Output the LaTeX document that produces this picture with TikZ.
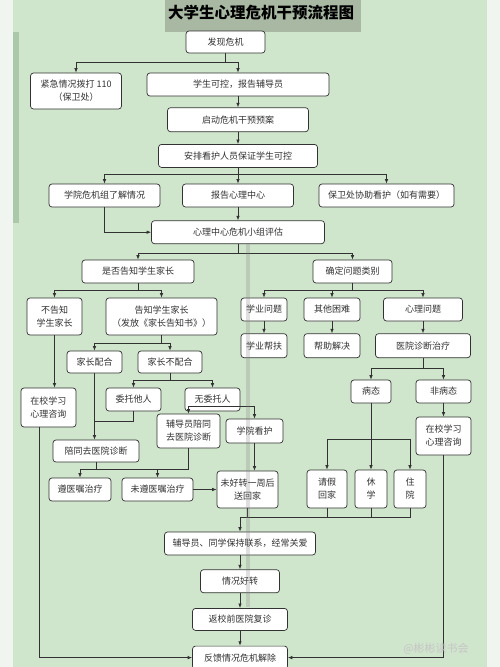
\documentclass[tikz,border=0pt]{standalone}
\usepackage{fontspec}
\usetikzlibrary{arrows.meta, positioning}
\newfontfamily\cjk{Noto Sans CJK SC}
\definecolor{paper}{RGB}{240,245,239}
\definecolor{sheet}{RGB}{207,229,204}
\definecolor{band}{RGB}{168,184,163}
\definecolor{stripe}{RGB}{172,200,170}
\definecolor{ink}{RGB}{50,50,50}

\begin{document}
\begin{tikzpicture}[x=1pt, y=-1pt,
        block/.style={rectangle, rounded corners=3pt, draw=ink, fill=white,
                      line width=0.7pt, minimum height=23pt, inner sep=2pt,
                      align=center, text=ink, font=\cjk\fontsize{9}{13}\selectfont},
        arrow/.style={-{Latex[length=4.5pt, width=3.5pt]}, line width=0.7pt, draw=ink},
        line/.style={line width=0.7pt, draw=ink},
    ]
        \useasboundingbox (0,0) rectangle (500,667);
        \fill[paper] (0,0) rectangle (500,667);
        \fill[sheet] (13,0) rectangle (487,667);
        \fill[stripe] (13,32) rectangle (19,223);
        \fill[band] (165,0) rectangle (361,32);
        \node[font=\cjk\bfseries\fontsize{15.5}{16}\selectfont, text=black] (title) at (261,13) {大学生心理危机干预流程图};

        % trunk
        \node[block, minimum width=79pt, minimum height=22pt] (find) at (225.5,42) {发现危机};
        \node[block, minimum width=91pt, minimum height=36pt] (call) at (76,91) {紧急情况拨打 110\\（保卫处）};
        \node[block, minimum width=182pt] (ctrl) at (238,84.5) {学生可控，报告辅导员};
        \node[block, minimum width=141pt, minimum height=24pt, below=11pt of ctrl] (plan) {启动危机干预预案};
        \node[block, minimum width=159pt, below=12pt of plan] (guard) {安排看护人员保证学生可控};
        \node[block, minimum width=111pt] (report) at (238,195.5) {报告心理中心};
        \node[block, minimum width=111pt] (college) at (104.5,195.5) {学院危机组了解情况};
        \node[block, minimum width=135pt] (security) at (386.5,195.5) {保卫处协助看护（如有需要）};
        \node[block, minimum width=173pt, below=13pt of report] (assess) {心理中心危机小组评估};

        % parents
        \node[block, minimum width=112pt] (notify) at (138,271.5) {是否告知学生家长};
        \node[block, minimum width=55pt, minimum height=37pt] (nonotify) at (54.5,316.5) {不告知\\学生家长};
        \node[block, minimum width=111pt, minimum height=37pt] (inform) at (161.5,316.5) {告知学生家长\\（发放《家长告知书》）};
        \node[block, minimum width=55pt, minimum height=22pt] (coop) at (94.5,362) {家长配合};
        \node[block, minimum width=64pt, minimum height=22pt] (noncoop) at (170,362) {家长不配合};
        \node[block, minimum width=55pt, minimum height=39pt] (studyL) at (48.5,407.5) {在校学习\\心理咨询};
        \node[block, minimum width=55pt] (entrust) at (133.5,399.5) {委托他人};
        \node[block, minimum width=55pt] (noagent) at (212.5,399.5) {无委托人};
        \node[block, minimum width=63pt, minimum height=34pt] (tutor) at (188.5,431) {辅导员陪同\\去医院诊断};
        \node[block, minimum width=57pt, minimum height=24pt] (campus) at (254.5,431) {学院看护};
        \node[block, minimum width=86pt, minimum height=22pt] (escort) at (96,451) {陪同去医院诊断};
        \node[block, minimum width=62pt] (follow) at (80,489.5) {遵医嘱治疗};
        \node[block, minimum width=71pt] (nofollow) at (157.5,489.5) {未遵医嘱治疗};
        \node[block, minimum width=61pt, minimum height=37pt] (notbetter) at (247.5,489.5) {未好转一周后\\送回家};

        % problem types
        \node[block, minimum width=79pt] (classify) at (352.5,271.5) {确定问题类别};
        \node[block, minimum width=46pt] (study) at (264,309.5) {学业问题};
        \node[block, minimum width=56pt] (other) at (332,309.5) {其他困难};
        \node[block, minimum width=79pt] (psych) at (423,309.5) {心理问题};
        \node[block, minimum width=46pt, minimum height=24pt, below=12pt of study] (tutoring) {学业帮扶};
        \node[block, minimum width=56pt, minimum height=24pt, below=12pt of other] (help) {帮助解决};
        \node[block, minimum width=95pt, minimum height=24pt, below=12pt of psych] (hospital) {医院诊断治疗};
        \node[block, minimum width=40pt] (ill) at (371,391.5) {病态};
        \node[block, minimum width=55pt] (notill) at (443.5,391.5) {非病态};
        \node[block, minimum width=55pt, minimum height=38pt] (studyR) at (443.5,436) {在校学习\\心理咨询};
        \node[block, minimum width=40pt, minimum height=38pt] (leave) at (327,489) {请假\\回家};
        \node[block, minimum width=32pt, minimum height=38pt] (suspend) at (371,489) {休\\学};
        \node[block, minimum width=32pt, minimum height=38pt] (inpatient) at (410,489) {住\\院};

        % ending
        \node[block, minimum width=151pt] (care) at (240,543.5) {辅导员、同学保持联系，经常关爱};
        \node[block, minimum width=79pt, below=14pt of care] (better) {情况好转};
        \node[block, minimum width=95pt, minimum height=22pt, below=15pt of better] (recheck) {返校前医院复诊};
        \node[block, minimum width=95pt, below=15pt of recheck] (resolved) {反馈情况危机解除};

        \draw[arrow] (find.south) -- ++(0,9) -| (call);
        \draw[arrow] (find.south) -- ++(0,9) -| (ctrl);
        \draw[arrow] (ctrl) -- (plan);
        \draw[arrow] (plan) -- (guard);
        \draw[arrow] (guard.south) -- ++(0,7) -| (college);
        \draw[arrow] (guard.south) -- ++(0,7) -| (security);
        \draw[arrow] (guard) -- (report);
        \draw[arrow] (college.south) |- (assess.west);
        \draw[arrow] (report) -- (assess);
        \draw[arrow] (assess.south) -- ++(0,9) -| (notify);
        \draw[arrow] (assess.south) -- ++(0,9) -| (classify);

        \draw[arrow] (notify.south) -- ++(0,7) -| (nonotify);
        \draw[arrow] (notify.south) -- ++(0,7) -| (inform);
        \draw[arrow] (inform.south) -- ++(0,8) -| (coop);
        \draw[arrow] (inform.south) -- ++(0,8) -| (noncoop);
        \draw[arrow] (nonotify.south) -- (nonotify.south |- studyL.north);
        \draw[arrow] (coop.south) -- (coop.south |- escort.north);
        \coordinate (join) at (coop.south |- 0,421);
        \draw[line] (entrust.south) |- (join);
        \draw[arrow] (noncoop.south) -- ++(0,7) -| (entrust);
        \draw[arrow] (noncoop.south) -- ++(0,7) -| (noagent);
        \coordinate (split) at ([yshift=5pt]noagent.south);
        \draw[arrow] (split) -| (tutor);
        \draw[arrow] (split) -| (campus);
        \coordinate (fork) at ([yshift=-7pt]escort.south);
        \draw[line] (escort.south) -- (fork);
        \draw[line] (tutor.south) |- (fork);
        \draw[arrow] (fork) -| (follow);
        \draw[arrow] (fork) -| (nofollow);
        \draw[arrow] (nofollow) -- (notbetter);
        \draw[arrow] (campus.south) -- (campus.south |- notbetter.north);

        \draw[arrow] (classify.south) -- ++(0,7) -| (study);
        \draw[arrow] (classify.south) -- ++(0,7) -| (other);
        \draw[arrow] (classify.south) -- ++(0,7) -| (psych);
        \draw[arrow] (study) -- (tutoring);
        \draw[arrow] (other) -- (help);
        \draw[arrow] (psych) -- (hospital);
        \draw[arrow] (hospital.south) -- ++(0,10) -| (ill);
        \draw[arrow] (hospital.south) -- ++(0,10) -| (notill);
        \draw[arrow] (notill) -- (studyR);
        \draw[arrow] (ill) -- (suspend);
        \coordinate (branch) at (ill.south |- 0,439);
        \draw[arrow] (branch) -| (leave);
        \draw[arrow] (branch) -| (inpatient);

        \coordinate (merge) at (care.north |- 0,517);
        \draw[line] (inpatient.south) |- (merge);
        \draw[line] (leave.south) -- (leave.south |- merge);
        \draw[line] (suspend.south) -- (suspend.south |- merge);
        \draw[line] (notbetter.south) -- (notbetter.south |- merge);
        \draw[arrow] (merge) -- (care);
        \draw[arrow] (care) -- (better);
        \draw[arrow] (better) -- (recheck);
        \draw[arrow] (recheck) -- (resolved);
        \draw[arrow] ([xshift=-9pt]studyL.south) |- (resolved.west);
        \draw[arrow] (studyR.south) |- (resolved.east);

        \fill[gray, opacity=0.25] (246,243) rectangle (250,607);
        \node[font=\cjk\fontsize{11}{11}\selectfont, text=gray!45!white] (mark) at (436,649) {@彬彬读书会};
    \end{tikzpicture}
\end{document}
